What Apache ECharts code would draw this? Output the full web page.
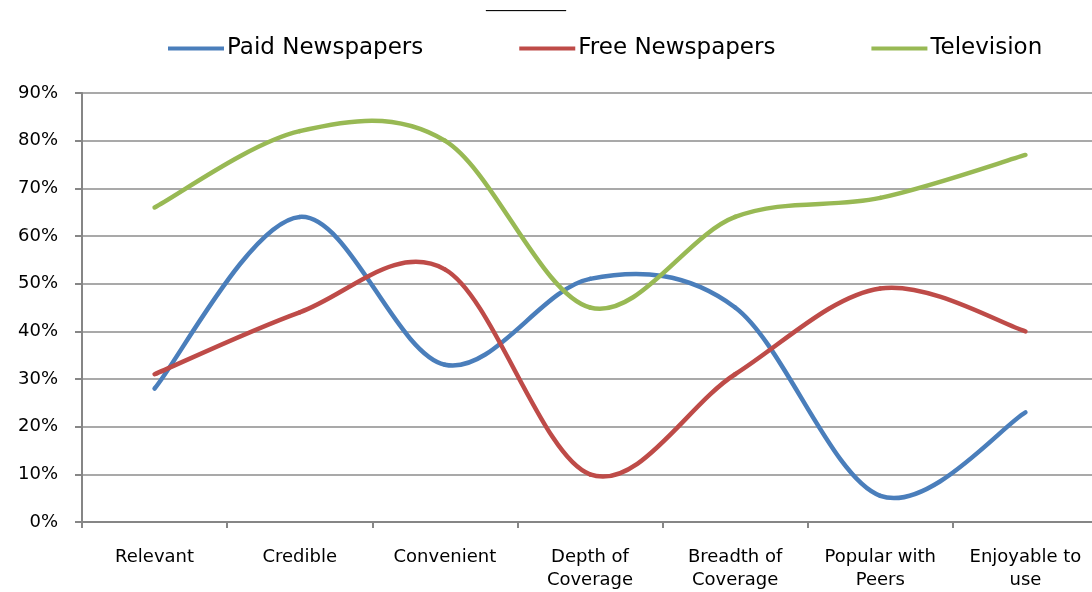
<!DOCTYPE html>
<html>
<head>
<meta charset="utf-8">
<script src="https://cdn.jsdelivr.net/npm/echarts@6/dist/echarts.min.js"></script>
<style>
html,body{margin:0;padding:0;background:#fff;overflow:hidden;}
#chart{width:1100px;height:592px;}
</style>
</head>
<body>
<div id="chart"></div>
<script>
var categories = ['Relevant', 'Credible', 'Convenient', 'Depth of\nCoverage', 'Breadth of\nCoverage', 'Popular with\nPeers', 'Enjoyable to\nuse'];
var paidNewspapers = [28, 64, 33, 51, 45, 5.5, 23];
var freeNewspapers = [31, 44, 53, 10, 31, 49, 40];
var television = [66, 82, 80, 45, 64, 68, 77];
var seriesNames = ['Paid Newspapers', 'Free Newspapers', 'Television'];
var colors = ['#4A7EBB', '#BE4B48', '#98B954'];
var titleText = '__________';

var font = 'DejaVu Sans, Verdana, sans-serif';
var chart = echarts.init(document.getElementById('chart'));

// Smooth (Catmull-Rom style, like spreadsheet "smoothed line") drawn through the axis scales
function mk(name, values, color) {
  return {
    name: name,
    type: 'custom',
    coordinateSystem: 'cartesian2d',
    data: values.map(function (v, i) { return [i, v]; }),
    encode: { x: 0, y: 1 },
    itemStyle: { color: color },
    renderItem: function (params, api) {
      var i = params.dataIndex;
      var n = values.length;
      if (i >= n - 1) return null;
      function P(k) {
        k = Math.max(0, Math.min(n - 1, k));
        return api.coord([k, values[k]]);
      }
      var p0 = P(i - 1), p1 = P(i), p2 = P(i + 1), p3 = P(i + 2);
      var t = 1 / 6;
      return {
        type: 'bezierCurve',
        shape: {
          x1: p1[0], y1: p1[1],
          cpx1: p1[0] + (p2[0] - p0[0]) * t, cpy1: p1[1] + (p2[1] - p0[1]) * t,
          cpx2: p2[0] - (p3[0] - p1[0]) * t, cpy2: p2[1] - (p3[1] - p1[1]) * t,
          x2: p2[0], y2: p2[1]
        },
        style: { stroke: color, fill: null, lineWidth: 4.5, lineCap: 'round' }
      };
    }
  };
}
chart.setOption({
  animation: false,
  color: colors,
  title: {
    text: titleText, left: 481, top: -10,
    textStyle: { fontFamily: font, fontSize: 16, fontWeight: 'normal', color: '#000' }
  },
  legend: {
    left: 163, top: 32, icon: 'rect', itemWidth: 56, itemHeight: 4, itemGap: 96,
    textStyle: { fontFamily: font, fontSize: 23, color: '#000', padding: [0, 0, 0, -2] },
    data: seriesNames
  },
  grid: { left: 82, top: 93, bottom: 68, right: 2, containLabel: false },
  xAxis: {
    type: 'category', data: categories, boundaryGap: true,
    axisLine: { lineStyle: { color: '#868686', width: 2 } },
    axisTick: { show: true, length: 6, lineStyle: { color: '#868686', width: 2 } },
    axisLabel: { fontFamily: font, fontSize: 18, color: '#000', margin: 24, lineHeight: 23, interval: 0 },
    splitLine: { show: false }
  },
  yAxis: {
    type: 'value', min: 0, max: 90, interval: 10,
    axisLine: { show: true, lineStyle: { color: '#868686', width: 2 } },
    axisTick: { show: true, length: 7, lineStyle: { color: '#868686', width: 2 } },
    axisLabel: { fontFamily: font, fontSize: 18, color: '#000', margin: 24, formatter: '{value}%' },
    splitLine: { show: true, lineStyle: { color: '#8c8c8c', width: 1.5 } }
  },
  series: [
    mk(seriesNames[0], paidNewspapers, colors[0]),
    mk(seriesNames[1], freeNewspapers, colors[1]),
    mk(seriesNames[2], television, colors[2])
  ]
});
</script>
</body>
</html>
